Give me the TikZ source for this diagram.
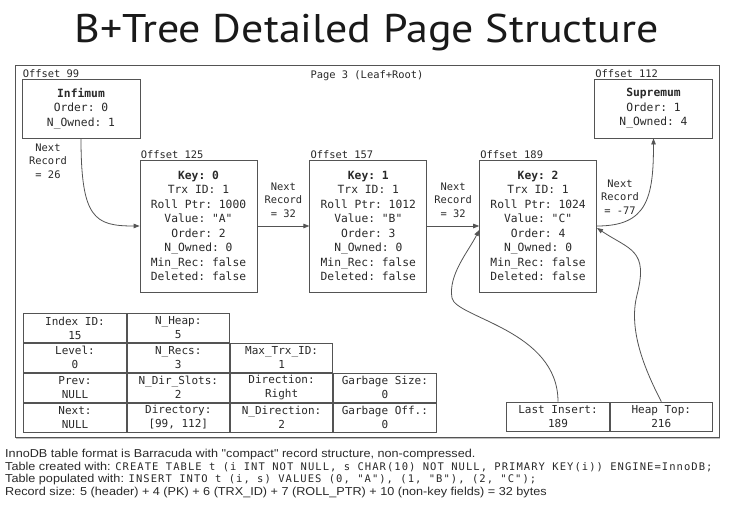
\documentclass[tikz,border=0pt]{standalone}
\usepackage{fontspec}
\setmainfont{Liberation Sans}
\setmonofont{DejaVu Sans Mono}
\newfontfamily\titlefont[FakeStretch=1.1]{PT Sans}
\newfontfamily\notefont[FakeStretch=1.1]{Liberation Sans}
\newfontfamily\codefont[LetterSpace=10]{DejaVu Sans Mono}
\usetikzlibrary{shapes,arrows.meta,calc,positioning,shadows}

\definecolor{linegray}{gray}{0.33}
\definecolor{txtgray}{gray}{0.16}

\newcommand\recfont{\ttfamily\fontsize{11.3}{14.5}\selectfont}
\newcommand\lblfont{\ttfamily\fontsize{10.4}{13.5}\selectfont}
\newcommand\cellfont{\ttfamily\fontsize{11}{14}\selectfont}
\newcommand\code[1]{{\codefont\fontsize{10.5}{12.7}\selectfont #1}}

\tikzset{
    recbox/.style = {draw=linegray, line width=0.8pt, rectangle,
        minimum width=117pt,
        minimum height=132pt,
        inner sep=0pt, align=center, font=\recfont},
    sysbox/.style = {recbox, minimum width=118pt, minimum height=59pt},
    cell/.style = {draw=linegray, line width=0.8pt, rectangle,
        minimum width=102.5pt, minimum height=29pt,
        inner sep=0pt, align=center, font=\cellfont},
    offlbl/.style = {anchor=south west, inner sep=1pt, font=\lblfont},
    nextlbl/.style = {align=center, inner sep=0pt, font=\lblfont},
    link/.style = {->, draw=linegray, line width=0.8pt},
}
\tikzstyle{pagebox} = [rectangle, draw=linegray, line width=0.9pt, fill=white, minimum width=704pt, minimum height=372pt, drop shadow={shadow xshift=1.2pt, shadow yshift=-1.8pt, opacity=0.5}]

\begin{document}
\begin{tikzpicture}[x=1pt, y=-1pt, node distance=52pt, >={Triangle[length=6pt,width=4.5pt]}, text=txtgray]
    \useasboundingbox (0,0) rectangle (743,508);

    % title and page frame
    \node (title) [anchor=base, font=\titlefont\fontsize{40}{40}\selectfont, text=black!90] at (366.5,43) {B+Tree Detailed Page Structure};
    \node (page) [pagebox] at (367,251) {};
    \node (pagename) [font=\lblfont, below=3pt of page.north] {Page 3 (Leaf+Root)};

    % system records
    \node (inf) [sysbox, label={[offlbl]north west:Offset 99}] at (81,108.5) {\textbf{Infimum}\\Order: 0\\N\_Owned: 1};
    \node (sup) [sysbox, label={[offlbl]north west:Offset 112}] at (653.5,108.5) {\textbf{Supremum}\\Order: 1\\N\_Owned: 4};

    % user records
    \node (rec0) [recbox, label={[offlbl]north west:Offset 125}] at (198.5,226) {\textbf{Key: 0}\\Trx ID: 1\\Roll Ptr: 1000\\Value: "A"\\Order: 2\\N\_Owned: 0\\Min\_Rec: false\\Deleted: false};
    \node (rec1) [recbox, right=of rec0, label={[offlbl]north west:Offset 157}] {\textbf{Key: 1}\\Trx ID: 1\\Roll Ptr: 1012\\Value: "B"\\Order: 3\\N\_Owned: 0\\Min\_Rec: false\\Deleted: false};
    \node (rec2) [recbox, right=of rec1, label={[offlbl]north west:Offset 189}] {\textbf{Key: 2}\\Trx ID: 1\\Roll Ptr: 1024\\Value: "C"\\Order: 4\\N\_Owned: 0\\Min\_Rec: false\\Deleted: false};

    %% next record pointers
    \node (infnext) [nextlbl] at (48,161) {Next\\Record\\= 26};
    \draw [link] (inf.south) .. controls +(0,80) and +(-45,0) .. (rec0.west);
    \draw [link] (rec0) -- node[nextlbl, above=8pt] {Next\\Record\\= 32} (rec1);
    \draw [link] (rec1) -- node[nextlbl, above=8pt] {Next\\Record\\= 32} (rec2);
    \draw [link] (rec2.east) .. controls +(50,0) and +(0,60) .. (sup.south);
    \node (supnext) [nextlbl] at (620,197) {Next\\Record\\= -77};

    % page header fields
    \node (indexid) [cell] at (75,328) {Index ID:\\15};
    \node (nheap) [cell, right=0pt of indexid] {N\_Heap:\\5};
    \node (level) [cell, below=0pt of indexid] {Level:\\0};
    \node (nrecs) [cell, right=0pt of level] {N\_Recs:\\3};
    \node (maxtrx) [cell, right=0pt of nrecs] {Max\_Trx\_ID:\\1};
    \node (prev) [cell, below=0pt of level] {Prev:\\NULL};
    \node (ndirslots) [cell, right=0pt of prev] {N\_Dir\_Slots:\\2};
    \node (direction) [cell, right=0pt of ndirslots] {Direction:\\Right};
    \node (garbsize) [cell, right=0pt of direction] {Garbage Size:\\0};
    \node (next) [cell, below=0pt of prev] {Next:\\NULL};
    \node (directory) [cell, right=0pt of next] {Directory:\\{[}99, 112]};
    \node (ndirection) [cell, right=0pt of directory] {N\_Direction:\\2};
    \node (garboff) [cell, right=0pt of ndirection] {Garbage Off.:\\0};

    % last insert / heap top
    \node (lastins) [cell] at (558,416.5) {Last Insert:\\189};
    \node (heaptop) [cell, right=0pt of lastins] {Heap Top:\\216};
    \draw [link] (lastins.north) .. controls (558,330) and (456,318) .. (452,298) .. controls (448,275) and (468,252) .. ([yshift=-4pt]rec2.west);
    \draw [link] (heaptop.north) .. controls (645,370) and (628,330) .. (637,295) .. controls (648.7,249.5) and (630,250) .. ([yshift=-2pt]rec2.east);

    % notes
    \node (notes) [anchor=north west, inner sep=0pt, align=left, font=\notefont\fontsize{11.5}{12.7}\selectfont] at (5,449) {InnoDB table format is Barracuda with "compact" record structure, non-compressed.\\
        Table created with: \code{CREATE TABLE t (i INT NOT NULL, s CHAR(10) NOT NULL, PRIMARY KEY(i)) ENGINE=InnoDB;}\\
        Table populated with: \code{INSERT INTO t (i, s) VALUES (0, "A"), (1, "B"), (2, "C");}\\
        Record size: 5 (header) + 4 (PK) + 6 (TRX\_ID) + 7 (ROLL\_PTR) + 10 (non-key fields) = 32 bytes};

\end{tikzpicture}
\end{document}
